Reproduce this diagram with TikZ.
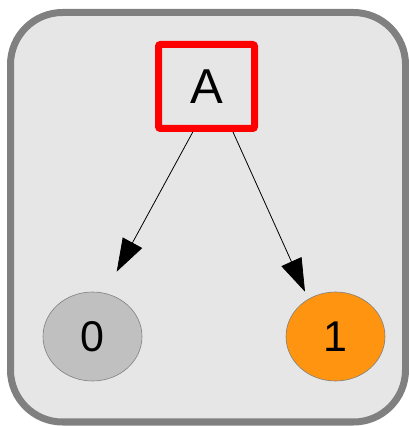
\documentclass[tikz,border=0pt]{standalone}
\usepackage{fontspec}
\setmainfont{Liberation Sans}
\usetikzlibrary{arrows.meta,shapes.geometric}
\definecolor{framegray}{HTML}{808080}
\definecolor{panelgray}{HTML}{E6E6E6}
\definecolor{zerogray}{HTML}{C0C0C0}
\definecolor{oneorange}{HTML}{FF9410}
\begin{document}
\begin{tikzpicture}[x=1pt, y=1pt,
    leaf/.style={ellipse, draw=framegray, line width=0.6pt, minimum width=99pt, minimum height=89pt, inner sep=0pt, font=\fontsize{43}{43}\selectfont},
    edge/.style={-{Triangle[length=33pt,width=22pt]}, line width=0.8pt}]

    \useasboundingbox (0,0) rectangle (409,426);

    % Рамка
    \draw[line width=7pt, draw=framegray, fill=panelgray, rounded corners=52pt] (10.5,4) rectangle (405.5,413.5);

    % Узлы
    \node[draw=red, line width=7pt, rounded corners=2pt, minimum width=96pt, minimum height=84pt, font=\fontsize{49}{49}\selectfont] (A) at (206.5,339.5) {A};
    \node[leaf, fill=zerogray] (zero) at (92.5,89.5) {0};
    \node[leaf, fill=oneorange] (one) at (335.5,89.5) {1};

    % Стрелки
    \coordinate (tipzero) at (116.7,154.3);
    \coordinate (tipone) at (305,134.3);
    \draw[edge] ([xshift=-13.7pt]A.south) -- (tipzero);
    \draw[edge] ([xshift=26.5pt]A.south) -- (tipone);

\end{tikzpicture}
\end{document}
